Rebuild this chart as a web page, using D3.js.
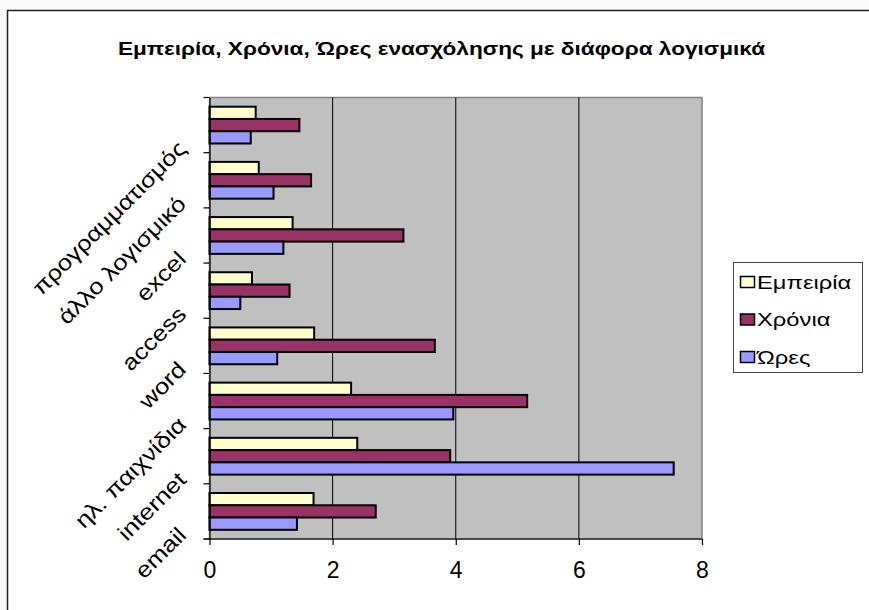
<!DOCTYPE html>
<html>
<head>
<meta charset="utf-8">
<script src="https://cdn.jsdelivr.net/npm/d3@7"></script>
<style>
  html, body { margin: 0; padding: 0; background: #fafafa; }
  svg { display: block; font-family: Arial, "Liberation Sans", sans-serif; }
</style>
</head>
<body>
<svg id="chart" width="869" height="610"></svg>
<script>
// Categories, listed top to bottom as drawn on the vertical axis
const categories = ["προγραμματισμός", "άλλο λογισμικό", "excel", "access", "word", "ηλ. παιχνίδια", "internet", "email"];
const seriesNames = ["Εμπειρία", "Χρόνια", "Ώρες"];
const experience = [0.75, 0.80, 1.35, 0.69, 1.70, 2.30, 2.40, 1.69];
const years      = [1.46, 1.65, 3.15, 1.30, 3.66, 5.16, 3.91, 2.70];
const hours      = [0.67, 1.04, 1.20, 0.50, 1.10, 3.96, 7.54, 1.42];
const xTicks = [0, 2, 4, 6, 8];
const seriesColors = ["#FFFFCC", "#993366", "#9999FF"];
const titleText = "Εμπειρία, Χρόνια, Ώρες ενασχόλησης με διάφορα λογισμικά";

const series = [experience, years, hours];
const svg = d3.select("#chart");

// chart area
svg.append("rect").attr("x", 7.5).attr("y", 10.5).attr("width", 900).attr("height", 700)
  .attr("fill", "#fff").attr("stroke", "#222").attr("stroke-width", 1.5);

const plot = { left: 209.5, right: 702, top: 97.5, bottom: 539 };

const x = d3.scaleLinear().domain([0, 8]).range([plot.left, plot.right]);
const yBand = d3.scaleBand().domain(categories).range([plot.top, plot.bottom]);
const y = d3.scaleBand().domain(categories).range([plot.top, plot.bottom]).paddingInner(1 / 3).paddingOuter(1 / 6);
const ySub = d3.scaleBand().domain(d3.range(series.length)).range([0, y.bandwidth()]);

// plot area
svg.append("rect")
  .attr("x", plot.left).attr("y", plot.top)
  .attr("width", plot.right - plot.left).attr("height", plot.bottom - plot.top)
  .attr("fill", "#C0C0C0").attr("stroke", "#808080").attr("stroke-width", 1.5);

// vertical grid lines
svg.append("g").selectAll("line").data(xTicks.slice(1, -1)).join("line")
  .attr("x1", d => x(d)).attr("x2", d => x(d))
  .attr("y1", plot.top).attr("y2", plot.bottom)
  .attr("stroke", "#000").attr("stroke-width", 1);

// bars
const groups = svg.append("g").selectAll("g").data(categories).join("g")
  .attr("transform", c => `translate(0,${y(c)})`);
groups.selectAll("rect").data((c, i) => series.map((s, k) => ({ k, v: s[i] }))).join("rect")
  .attr("x", x(0))
  .attr("y", d => ySub(d.k))
  .attr("width", d => x(d.v) - x(0))
  .attr("height", ySub.bandwidth())
  .attr("fill", d => seriesColors[d.k])
  .attr("stroke", "#000").attr("stroke-width", 2);

// category axis
const yAxis = d3.axisLeft(yBand).tickSize(0).tickFormat("");
const yAxisG = svg.append("g").attr("transform", `translate(${plot.left},0)`).call(yAxis);
yAxisG.select(".domain").attr("stroke", "#000").attr("stroke-width", 1.2);
svg.append("g").selectAll("line").data(d3.range(categories.length + 1)).join("line")
  .attr("x1", plot.left - 6).attr("x2", plot.left)
  .attr("y1", i => plot.top + i * yBand.step()).attr("y2", i => plot.top + i * yBand.step())
  .attr("stroke", "#000").attr("stroke-width", 1.2);

svg.append("g").selectAll("text").data(categories).join("text")
  .attr("transform", c => `translate(${plot.left - 22},${yBand(c) + yBand.bandwidth() / 2 + 25}) rotate(-45) scale(1.17,1)`)
  .attr("text-anchor", "end")
  .attr("font-size", 22)
  .attr("fill", "#000")
  .text(c => c);

// value axis
const xAxis = d3.axisBottom(x).tickValues(xTicks).tickSize(6).tickPadding(17);
const xAxisG = svg.append("g").attr("transform", `translate(0,${plot.bottom})`).call(xAxis);
xAxisG.select(".domain").attr("stroke", "#000").attr("stroke-width", 1.2).attr("d", `M${plot.left - 6},0H${plot.right}`);
xAxisG.selectAll(".tick line").attr("stroke", "#000").attr("stroke-width", 1.2);
xAxisG.selectAll(".tick text").attr("font-size", 23).attr("font-family", "Arial, 'Liberation Sans', sans-serif").attr("fill", "#000");

// title
svg.append("text")
  .attr("transform", `translate(441.5,55) scale(1.19,1)`)
  .attr("text-anchor", "middle")
  .attr("font-size", 19).attr("font-weight", "bold").attr("fill", "#000").text(titleText);

// legend
const lg = svg.append("g").attr("transform", "translate(733.5,262.5)");
lg.append("rect").attr("width", 129).attr("height", 110).attr("fill", "#fff").attr("stroke", "#444").attr("stroke-width", 1);
lg.selectAll("g").data(seriesNames).join("g")
  .attr("transform", (d, i) => `translate(7,${19.5 + i * 37.5})`)
  .each(function (d, i) {
    const g = d3.select(this);
    g.append("rect").attr("x", 0).attr("y", -5.5).attr("width", 14).attr("height", 11)
      .attr("fill", seriesColors[i]).attr("stroke", "#000").attr("stroke-width", 1.5);
    g.append("text").attr("transform", `translate(16.5,6.5) scale(1.32,1)`)
      .attr("font-size", 18).attr("fill", "#000").text(d);
  });
</script>
</body>
</html>
